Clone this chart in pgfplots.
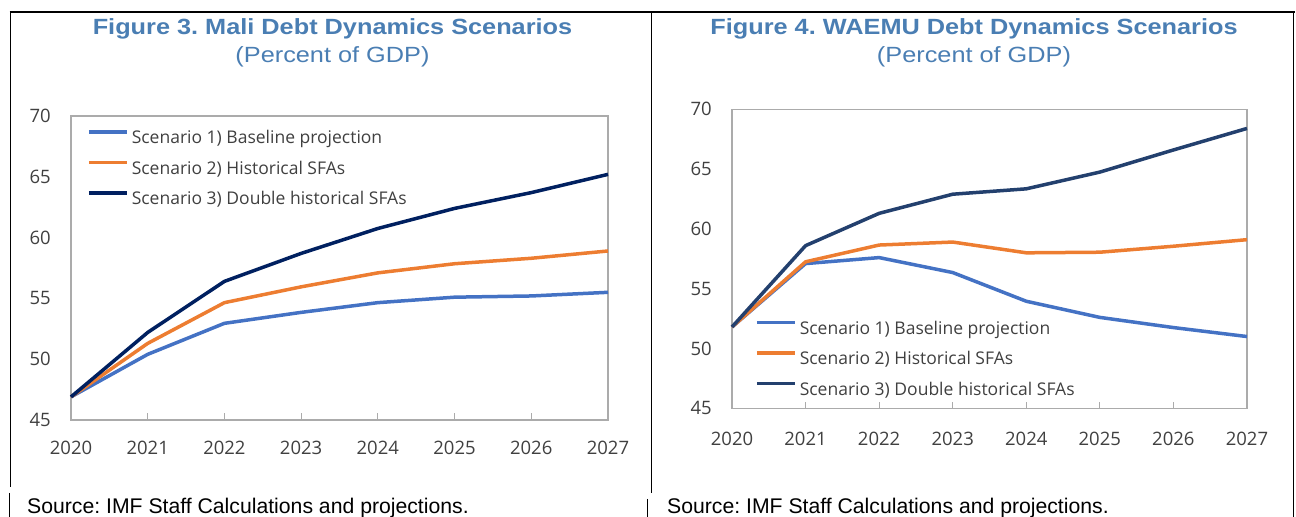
\documentclass[border=0pt]{standalone}
\usepackage{pgfplots}
\pgfplotsset{compat=1.18}
\usepackage{fontspec}
\setmainfont{Liberation Sans}
\newfontfamily\titlefont[FakeStretch=1.15]{Liberation Sans}
\newfontfamily\srcfont{Liberation Sans}
\newfontfamily\tickfont{Open Sans}
\definecolor{sblue}{HTML}{4472C4}
\definecolor{sorange}{HTML}{ED7D31}
\definecolor{snavyL}{HTML}{002060}
\definecolor{snavyR}{HTML}{23406E}
\definecolor{titleblue}{HTML}{4A7EB3}
\definecolor{framegray}{HTML}{ABABAB}
\definecolor{ticktext}{HTML}{404040}
\frenchspacing
\pgfplotsset{
  myaxis/.style={
    scale only axis,
    anchor=south west,
    xmin=2020, xmax=2027, ymin=45, ymax=70,
    xtick={2020,...,2027}, ytick={45,50,...,70},
    /pgf/number format/1000 sep={},
    /pgf/number format/assume math mode=true,
    axis line style={draw=framegray, line width=1.2bp},
    tick align=inside,
    xtick pos=bottom, ytick pos=left,
    major tick length=6.5bp,
    xtick style={draw=framegray, line width=1bp},
    ytick style={draw=none},
    ticklabel style={font=\tickfont\fontsize{18.5bp}{20bp}\selectfont, text=ticktext},
    yticklabel style={anchor=east, inner sep=0pt, xshift=-20bp},
    clip=false,
    every axis plot/.append style={line width=3.5bp, line join=round},
    legend image code/.code={\draw[##1, line width=3.8bp] (0bp,7.5bp) -- (38bp,7.5bp);},
    legend cell align=left,
    legend style={draw=none, fill=none, at={(0,1)}, anchor=north west,
      inner sep=0pt, outer sep=0pt, row sep=11.5bp, column sep=0pt,
      font=\tickfont\fontsize{17.5bp}{20bp}\selectfont, text=ticktext,
      nodes={inner xsep=3bp, inner ysep=0pt, text height=14bp, text depth=5bp}},
  }
}
\begin{document}
\begin{tikzpicture}
\useasboundingbox (0,0) rectangle (1296bp,517bp);
\clip (0,0) rectangle (1296bp,517bp);
% borders
\draw[line width=2bp] (9.5bp,505bp) -- (1295bp,505bp);
\draw[line width=1.3bp] (10.5bp,505bp) -- (10.5bp,30bp);
\draw[line width=1.3bp] (9.5bp,24bp) -- (9.5bp,0bp);
\draw[line width=1.3bp] (651.5bp,505bp) -- (651.5bp,24bp);
\draw[line width=1.3bp] (647.5bp,18bp) -- (647.5bp,0bp);
\draw[line width=1.5bp] (1293.5bp,505bp) -- (1293.5bp,0bp);
% titles
\node[anchor=base, font=\titlefont\bfseries\fontsize{22bp}{26bp}\selectfont, text=titleblue] at (332.5bp,482bp) {Figure 3. Mali Debt Dynamics Scenarios};
\node[anchor=base, font=\titlefont\fontsize{22bp}{26bp}\selectfont, text=titleblue] at (332.5bp,454.3bp) {(Percent of GDP)};
\node[anchor=base, font=\titlefont\bfseries\fontsize{22bp}{26bp}\selectfont, text=titleblue] at (974bp,482bp) {Figure 4. WAEMU Debt Dynamics Scenarios};
\node[anchor=base, font=\titlefont\fontsize{22bp}{26bp}\selectfont, text=titleblue] at (974bp,454.3bp) {(Percent of GDP)};
% sources
\node[anchor=base west, inner sep=0pt, font=\srcfont\fontsize{21.2bp}{24bp}\selectfont] at (27bp,4bp) {Source: IMF Staff Calculations and projections.};
\node[anchor=base west, inner sep=0pt, font=\srcfont\fontsize{21.2bp}{24bp}\selectfont] at (667bp,4bp) {Source: IMF Staff Calculations and projections.};
% left axis
\begin{axis}[myaxis, at={(71bp,97bp)}, width=537bp, height=304bp,
  xticklabel style={anchor=north, inner sep=0pt, yshift=-21bp},
  legend style={xshift=16bp, yshift=-14bp}]
\addplot[color=sblue] coordinates {(2020,46.9) (2021,50.4) (2022,52.95) (2023,53.85) (2024,54.65) (2025,55.1) (2026,55.2) (2027,55.5)};
\addlegendentry{Scenario 1) Baseline projection}
\addplot[color=sorange] coordinates {(2020,46.9) (2021,51.3) (2022,54.65) (2023,55.95) (2024,57.1) (2025,57.85) (2026,58.3) (2027,58.9)};
\addlegendentry{Scenario 2) Historical SFAs}
\addplot[color=snavyL] coordinates {(2020,46.9) (2021,52.2) (2022,56.4) (2023,58.7) (2024,60.75) (2025,62.4) (2026,63.7) (2027,65.2)};
\addlegendentry{Scenario 3) Double historical SFAs}
\end{axis}
% right axis
\begin{axis}[myaxis, at={(732bp,108.7bp)}, width=515bp, height=299bp,
  xticklabel style={anchor=north, inner sep=0pt, yshift=-23.5bp},
  legend style={xshift=23bp, yshift=-211.2bp}]
\addplot[color=sblue] coordinates {(2020,51.8) (2021,57.1) (2022,57.6) (2023,56.35) (2024,53.95) (2025,52.6) (2026,51.75) (2027,51.0)};
\addlegendentry{Scenario 1) Baseline projection}
\addplot[color=sorange] coordinates {(2020,51.8) (2021,57.25) (2022,58.65) (2023,58.9) (2024,58.0) (2025,58.05) (2026,58.55) (2027,59.1)};
\addlegendentry{Scenario 2) Historical SFAs}
\addplot[color=snavyR] coordinates {(2020,51.8) (2021,58.6) (2022,61.3) (2023,62.9) (2024,63.35) (2025,64.75) (2026,66.6) (2027,68.4)};
\addlegendentry{Scenario 3) Double historical SFAs}
\end{axis}
\end{tikzpicture}
\end{document}
